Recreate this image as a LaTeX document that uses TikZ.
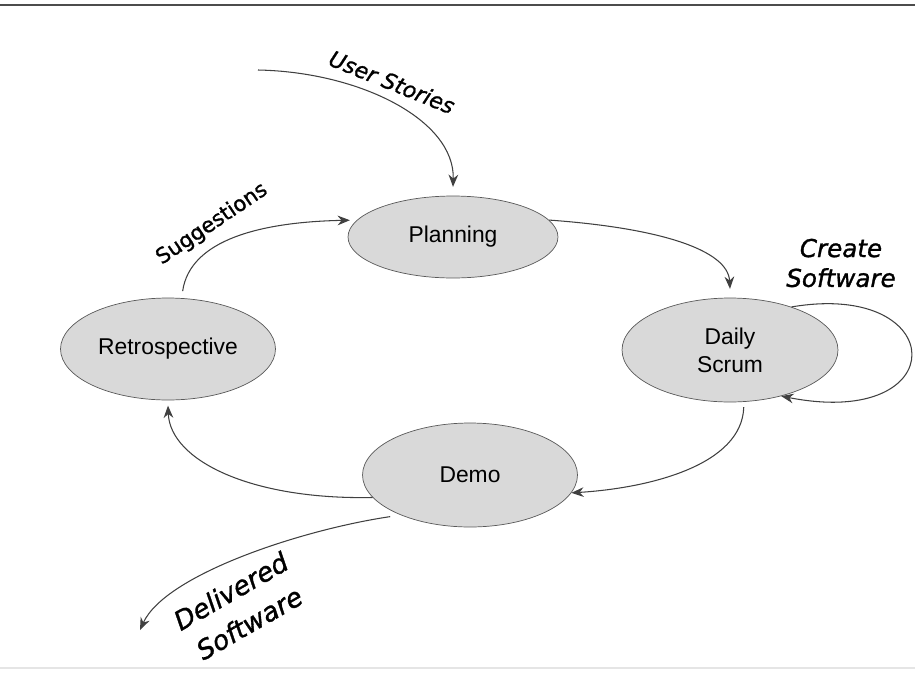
\documentclass[tikz,border=0pt]{standalone}
\usepackage{fontspec}
\setmainfont{Liberation Sans}
\newfontfamily\tagfont[FakeBold=1.2]{DejaVu Sans}
\usetikzlibrary{shapes.geometric,arrows.meta}

\begin{document}
\begin{tikzpicture}[x=0.02cm, y=-0.02cm,
    phase/.style={ellipse, draw=black!65, fill=black!15, inner sep=0pt, minimum width=4.3cm, minimum height=2.05cm, align=center, font=\fontsize{13}{16}\selectfont},
    arrow/.style={-{Stealth[length=7pt,width=5.5pt]}, draw=black!75, line width=0.6pt},
    tag/.style={font=\tagfont\fontsize{13}{16}\selectfont, align=center, inner sep=0pt}
]
\useasboundingbox (0,0) rectangle (915,673);

\draw[black!70, line width=1.2pt] (0,5) -- (915,5);
\draw[black!10, line width=0.8pt] (0,668) -- (915,668);

\node[phase, minimum width=4.2cm, minimum height=1.64cm] (planning) at (453,237) {Planning};
\node[phase, minimum width=4.32cm, minimum height=2.08cm] (scrum) at (730,350) {Daily\\Scrum};
\node[phase, minimum height=2.04cm] (retro) at (168,349) {Retrospective};
\node[phase, minimum height=2.08cm] (demo) at (470,475) {Demo};

\coordinate (stories) at (258,70);

\node[tag, font=\tagfont\itshape\fontsize{12.5}{15}\selectfont, rotate=-22] (storieslabel) at (392,82) {User Stories};
\node[tag, font=\tagfont\fontsize{12}{15}\selectfont, rotate=34] (suggestlabel) at (212,224) {Suggestions};
\node[tag, font=\tagfont\itshape\fontsize{14}{17}\selectfont] (createlabel) at (841,263) {Create\\Software};
\node[tag, font=\tagfont\itshape\fontsize{15}{21}\selectfont, rotate=30] (deliverlabel) at (240,607) {Delivered\\Software};

\draw[arrow] (stories) .. controls (360,72) and (455,120) .. ([yshift=5pt]planning.north);
\draw[arrow] (planning.10) .. controls (660,228) and (728,250) .. ([yshift=5pt]scrum.north);
\draw[arrow] (scrum.35) .. controls (950,280) and (955,430) .. (scrum.-42);
\draw[arrow, shorten <=3pt] (scrum.-75) .. controls (742,465) and (650,488) .. (demo.-10);
\draw[arrow] (demo.193) .. controls (250,500) and (170,460) .. ([yshift=-3pt]retro.south);
\draw[arrow, shorten <=4pt, shorten >=4pt] (retro.75) .. controls (190,240) and (260,222) .. (planning.170);
\draw[arrow, shorten <=6pt] (demo.-150) .. controls (300,530) and (165,575) .. (140,630);

\end{tikzpicture}
\end{document}
